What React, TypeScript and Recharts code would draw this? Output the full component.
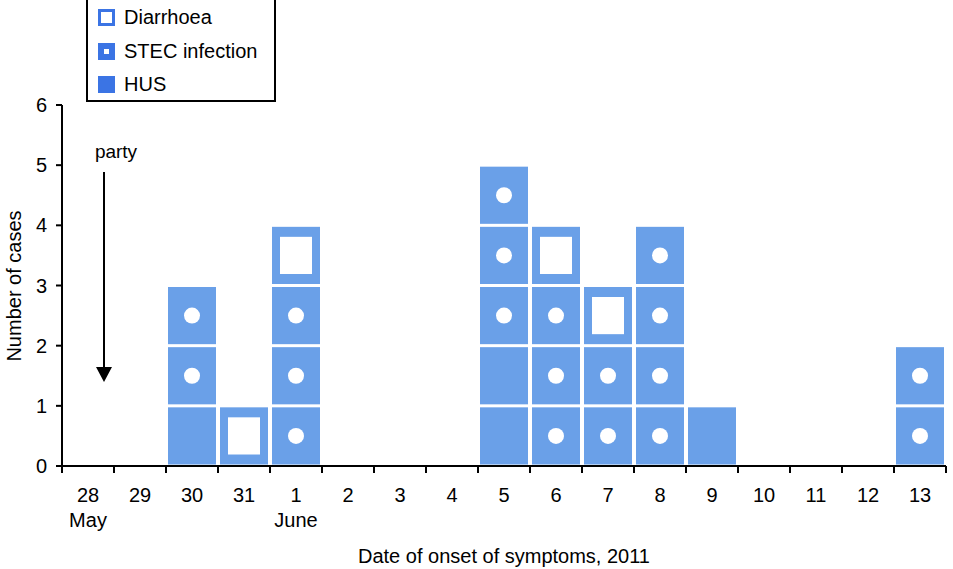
import React from "react";
import { BarChart, Bar, XAxis, YAxis } from "recharts";

const days = ["28", "29", "30", "31", "1", "2", "3", "4", "5", "6", "7", "8", "9", "10", "11", "12", "13"];
const monthLabels = ["May", "", "", "", "June", "", "", "", "", "", "", "", "", "", "", "", ""];
const hus = [0, 0, 1, 0, 0, 0, 0, 0, 2, 0, 0, 0, 1, 0, 0, 0, 0];
const stec = [0, 0, 2, 0, 3, 0, 0, 0, 3, 3, 2, 4, 0, 0, 0, 0, 2];
const diarrhoea = [0, 0, 0, 1, 1, 0, 0, 0, 0, 1, 1, 0, 0, 0, 0, 0, 0];
const yTicks = [0, 1, 2, 3, 4, 5, 6];

const data = days.map((day, i) => ({
  day,
  month: monthLabels[i],
  hus: hus[i],
  stec: stec[i],
  diarrhoea: diarrhoea[i],
}));

const BAR = "#6aa0e8";
const LEGEND_BLUE = "#3b74e4";
const FONT = "'Liberation Sans', Arial, sans-serif";

type Kind = "hus" | "stec" | "diarrhoea";

function CellStack(props: any) {
  const { x, y, width, height, payload, kind } = props as { x: number; y: number; width: number; height: number; payload: any; kind: Kind };
  const count = payload ? payload[kind] : 0;
  if (!count || !height) return null;
  const h = height / count;
  const cells = [];
  for (let i = 0; i < count; i++) {
    const cy = y + i * h;
    const cx = x + 2;
    const cw = width - 4;
    const ch = h - 3;
    cells.push(
      <g key={i}>
        <rect x={cx} y={cy + 1.5} width={cw} height={ch} fill={BAR} />
        {kind === "stec" && <circle cx={cx + cw / 2} cy={cy + 1.5 + ch / 2} r={8} fill="#fff" />}
        {kind === "diarrhoea" && (
          <rect x={cx + 8} y={cy + 11.5} width={cw - 16} height={ch - 20} fill="#fff" />
        )}
      </g>
    );
  }
  return <g>{cells}</g>;
}

function DayTick(props: any) {
  const { x, y, payload, index } = props;
  const off = payload?.offset ?? 26;
  const axisY = y - 7;
  const isLast = index === days.length - 1;
  return (
    <g>
      <line x1={x - off} y1={axisY} x2={x - off} y2={y} stroke="#000" strokeWidth={2} />
      {isLast && <line x1={x + off} y1={axisY} x2={x + off} y2={y} stroke="#000" strokeWidth={2} />}
      <text x={x} y={y + 29} textAnchor="middle" fontSize={20} fontFamily={FONT} fill="#000">
        {payload.value}
      </text>
      {monthLabels[index] && (
        <text x={x} y={y + 54} textAnchor="middle" fontSize={20} fontFamily={FONT} fill="#000">
          {monthLabels[index]}
        </text>
      )}
    </g>
  );
}

function LegendIcon({ kind }: { kind: Kind }) {
  return (
    <svg width={17} height={17} style={{ marginRight: 9 }}>
      <rect x={0} y={0} width={17} height={17} fill={LEGEND_BLUE} />
      {kind === "stec" && <rect x={6} y={6} width={5} height={5} fill="#fff" />}
      {kind === "diarrhoea" && <rect x={3} y={3} width={11} height={11} fill="#fff" />}
    </svg>
  );
}

const legendItems: { kind: Kind; label: string }[] = [
  { kind: "diarrhoea", label: "Diarrhoea" },
  { kind: "stec", label: "STEC infection" },
  { kind: "hus", label: "HUS" },
];

export default function App() {
  return (
    <div style={{ position: "absolute", left: 0, top: 0, width: 953, height: 569, background: "#fff", fontFamily: FONT }}>
      <BarChart
        width={953}
        height={569}
        data={data}
        margin={{ top: 105, right: 7, bottom: 0, left: 0 }}
        barCategoryGap={0}
      >
        <XAxis
          dataKey="day"
          interval={0}
          height={103}
          stroke="#000"
          strokeWidth={2}
          tickLine={false}
          tickSize={7}
          tickMargin={0}
          tick={<DayTick />}
        />
        <YAxis
          domain={[0, 6]}
          ticks={yTicks}
          interval={0}
          width={62}
          stroke="#000"
          strokeWidth={2}
          tickSize={6}
          tickMargin={9}
          tick={{ fill: "#000", fontSize: 20, fontFamily: FONT }}
        />
        <Bar dataKey="hus" stackId="a" fill={BAR} isAnimationActive={false} shape={(p: any) => <CellStack {...p} kind="hus" />} />
        <Bar dataKey="stec" stackId="a" fill={BAR} isAnimationActive={false} shape={(p: any) => <CellStack {...p} kind="stec" />} />
        <Bar dataKey="diarrhoea" stackId="a" fill={BAR} isAnimationActive={false} shape={(p: any) => <CellStack {...p} kind="diarrhoea" />} />
      </BarChart>

      <svg width={953} height={569} style={{ position: "absolute", left: 0, top: 0, pointerEvents: "none" }}>
        <text x={14} y={286} transform="rotate(-90 14 286)" textAnchor="middle" dominantBaseline="central" fontSize={20} fontFamily={FONT} fill="#000">
          Number of cases
        </text>
        <text x={504} y={563} textAnchor="middle" fontSize={20} fontFamily={FONT} fill="#000">
          Date of onset of symptoms, 2011
        </text>
        <text x={116} y={158} textAnchor="middle" fontSize={19} fontFamily={FONT} fill="#000">
          party
        </text>
        <line x1={104} y1={172} x2={104} y2={370} stroke="#000" strokeWidth={2} />
        <polygon points="96,367 112,367 104,382" fill="#000" />
      </svg>

      <div
        style={{
          position: "absolute",
          left: 86,
          top: -2,
          width: 190,
          height: 104,
          border: "2px solid #000",
          background: "#fff",
          boxSizing: "border-box",
          paddingLeft: 10,
          paddingTop: 1,
        }}
      >
        {legendItems.map((it) => (
          <div key={it.kind} style={{ display: "flex", alignItems: "center", height: 33.5, fontSize: 20 }}>
            <LegendIcon kind={it.kind} />
            <span>{it.label}</span>
          </div>
        ))}
      </div>
    </div>
  );
}
